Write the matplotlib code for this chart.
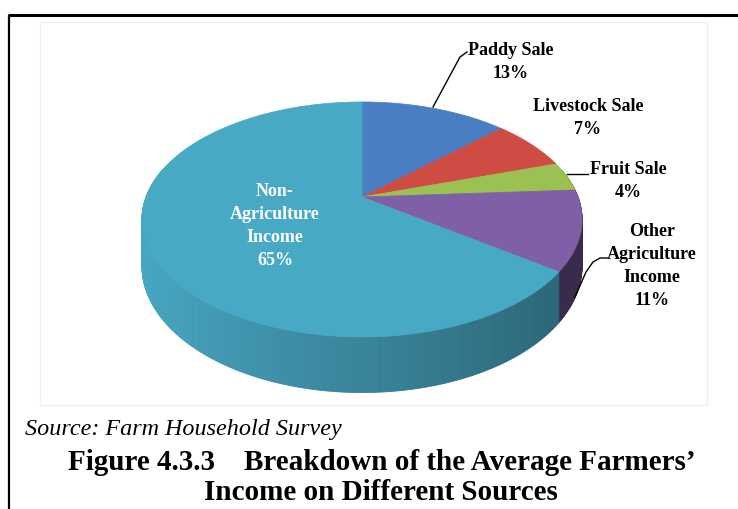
import numpy as np
import matplotlib.pyplot as plt
from matplotlib.patches import Polygon, Rectangle
from matplotlib.colors import to_rgb

# data
labels = ["Paddy Sale", "Livestock Sale", "Fruit Sale",
          "Other\nAgriculture\nIncome", "Non-\nAgriculture\nIncome"]
shares = [13, 7, 4, 11, 65]
top_colors = ["#4a7ec2", "#cf4c45", "#9bc153", "#7f5fa6", "#48a9c5"]
source_text = "Source: Farm Household Survey"
title_line1 = "Figure 4.3.3    Breakdown of the Average Farmers\u2019"
title_line2 = "Income on Different Sources"

W, H = 738, 509
fig = plt.figure(figsize=(W / 100, H / 100), dpi=100)
ax = fig.add_axes([0, 0, 1, 1])
ax.set_xlim(0, W)
ax.set_ylim(H, 0)
ax.axis("off")

# 3d pie geometry (pixel space, simple perspective)
cx, cy = 362, 197
e = 0.191
s = 216
sc = 113.2
depth = 45


def proj(t, d=0.0):
    u, v = np.cos(t), np.sin(t)
    w = 1 + e * v
    return cx + s * u / w, cy - sc * v / w + d / w


def shade(col, f):
    r, g, b = to_rgb(col)
    return (r * f, g * f, b * f)


# faint chart area
ax.add_patch(Rectangle((40, 22), 667, 383, fill=False, ec="#f0f0f0", lw=1))

# wedge angles: start at back (90 deg), go clockwise
total = sum(shares)
bounds = [np.pi / 2]
for v in shares:
    bounds.append(bounds[-1] - v / total * 2 * np.pi)

# side walls, drawn back to front
pieces = []
for i in range(len(shares)):
    a0, a1 = bounds[i], bounds[i + 1]
    ts = np.linspace(a0, a1, max(int(abs(a1 - a0) / 0.01), 2))
    for k in range(len(ts) - 1):
        t0, t1 = ts[k], ts[k + 1]
        tm = 0.5 * (t0 + t1)
        if np.sin(tm) > 0.25:
            continue
        # light from left: darker to the right
        c = np.cos(tm)
        f = 0.78 - 0.22 * c if i == 4 else 0.45
        pieces.append((np.sin(tm), i, t0, t1, f))
pieces.sort(key=lambda p: -p[0])
for _, i, t0, t1, f in pieces:
    p = [proj(t0), proj(t1), proj(t1, depth), proj(t0, depth)]
    col = shade(top_colors[i], f)
    ax.add_patch(Polygon(p, closed=True, fc=col, ec=col, lw=0.6))

# top face
for i in range(len(shares)):
    ts = np.linspace(bounds[i], bounds[i + 1], 200)
    pts = [(cx, cy)] + [proj(t) for t in ts]
    ax.add_patch(Polygon(pts, closed=True, fc=top_colors[i], ec=top_colors[i], lw=0.5))

# labels
lab_font = dict(family="Liberation Serif", fontweight="bold", fontsize=13,
                ha="center", va="center", linespacing=1.45)
ax.text(511, 62, f"{labels[0]}\n{shares[0]}%", color="black", **lab_font)
ax.text(588, 118, f"{labels[1]}\n{shares[1]}%", color="black", **lab_font)
ax.text(628, 181, f"{labels[2]}\n{shares[2]}%", color="black", **lab_font)
ax.text(652, 266, f"{labels[3]}\n{shares[3]}%", color="black", **lab_font)
ax.text(275, 226, f"{labels[4]}\n{shares[4]}%", color="white", **lab_font)

# leader lines
ax.plot([433, 460, 467], [107, 57, 52], color="black", lw=1)
ax.plot([567, 588], [174, 174], color="black", lw=1)
ax.plot([575, 586, 593, 600, 607], [297, 272, 262, 258, 258], color="black", lw=1)

# frame (top and left only)
ax.plot([8, W], [15, 15], color="black", lw=2.2, solid_capstyle="butt")
ax.plot([9, 9], [15, H], color="black", lw=1.6, solid_capstyle="butt")

# source and caption
ax.text(25, 435, source_text, family="Liberation Serif", style="italic",
        fontsize=17.4, ha="left", va="baseline")
ax.text(382, 470, title_line1, family="Liberation Serif", fontweight="bold",
        fontsize=21, ha="center", va="baseline")
ax.text(381, 500, title_line2, family="Liberation Serif", fontweight="bold",
        fontsize=21, ha="center", va="baseline")

fig.savefig("out.png", dpi=100, facecolor="white")
